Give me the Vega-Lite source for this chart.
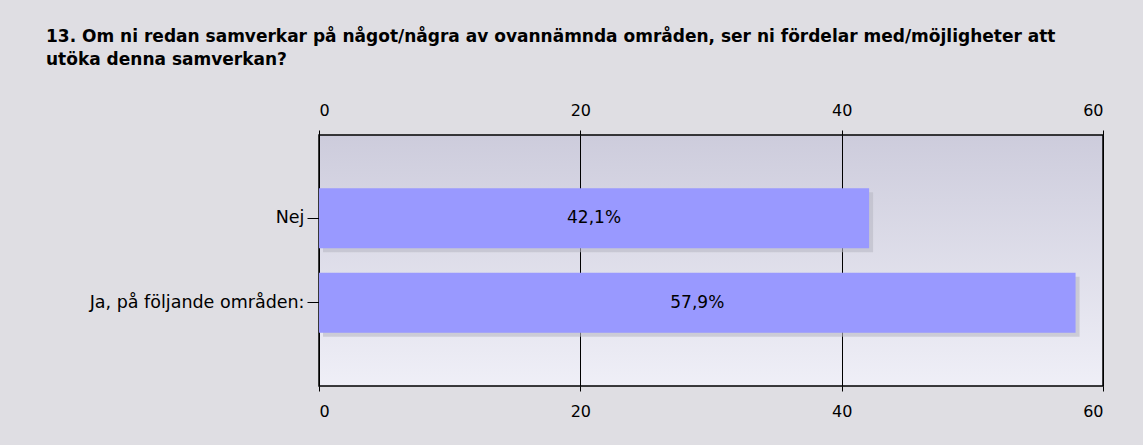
{
  "$schema": "https://vega.github.io/schema/vega-lite/v6.json",
  "width": 784,
  "height": 251,
  "autosize": {"type": "none"},
  "padding": {"left": 319, "top": 135, "right": 40, "bottom": 59},
  "background": "#dfdee3",
  "title": {
    "text": ["13. Om ni redan samverkar på något/några av ovannämnda områden, ser ni fördelar med/möjligheter att", "utöka denna samverkan?"],
    "anchor": "start",
    "frame": "group",
    "dx": -273,
    "font": "DejaVu Sans",
    "fontSize": 17,
    "fontWeight": "bold",
    "color": "#000000",
    "lineHeight": 23,
    "offset": 33
  },
  "data": {"values": [
    {"svar": "Nej", "procent": 42.1, "etikett": "42,1%"},
    {"svar": "Ja, på följande områden:", "procent": 57.9, "etikett": "57,9%"}
  ]},
  "encoding": {
    "y": {
      "field": "svar", "type": "nominal", "sort": null, "title": null,
      "scale": {"paddingInner": 0.29, "paddingOuter": 0.63},
      "axis": {"domain": false, "tickSize": 12, "tickColor": "#000", "labelPadding": 3, "labelFont": "DejaVu Sans", "labelFontSize": 17.5, "labelColor": "#000", "labelLimit": 400}
    }
  },
  "layer": [
    {
      "mark": {"type": "bar", "color": "#b9b9c4", "opacity": 0.6, "xOffset": 4, "yOffset": 4},
      "encoding": {
        "x": {"field": "procent", "type": "quantitative", "title": null,
          "scale": {"domain": [0, 60], "nice": false},
          "axis": {"orient": "bottom", "values": [0, 20, 40, 60], "domain": false, "tickColor": "#000", "tickSize": 5, "labelPadding": 12, "labelFont": "DejaVu Sans", "labelFontSize": 16, "labelColor": "#000", "grid": true, "gridColor": "#000", "gridOpacity": 1}
        }
      }
    },
    {
      "mark": {"type": "bar", "color": "#9999ff"},
      "encoding": {
        "x": {"field": "procent", "type": "quantitative", "title": null,
          "scale": {"domain": [0, 60], "nice": false},
          "axis": {"orient": "top", "values": [0, 20, 40, 60], "domain": false, "tickColor": "#000", "tickSize": 5, "labelPadding": 12, "labelFont": "DejaVu Sans", "labelFontSize": 16, "labelColor": "#000", "grid": false}
        }
      }
    },
    {
      "mark": {"type": "text", "font": "DejaVu Sans", "fontSize": 17, "color": "#000", "align": "center", "baseline": "middle"},
      "encoding": {
        "x": {"field": "procent", "type": "quantitative", "scale": {"domain": [0, 120], "nice": false}, "axis": null},
        "text": {"field": "etikett"}
      }
    }
  ],
  "resolve": {"scale": {"x": "independent"}, "axis": {"x": "independent"}},
  "config": {
    "view": {
      "stroke": "#000",
      "strokeWidth": 1.5,
      "fill": {"gradient": "linear", "x1": 0, "y1": 0, "x2": 0, "y2": 1, "stops": [{"offset": 0, "color": "#cdccdc"}, {"offset": 1, "color": "#efeff7"}]}
    }
  }
}
